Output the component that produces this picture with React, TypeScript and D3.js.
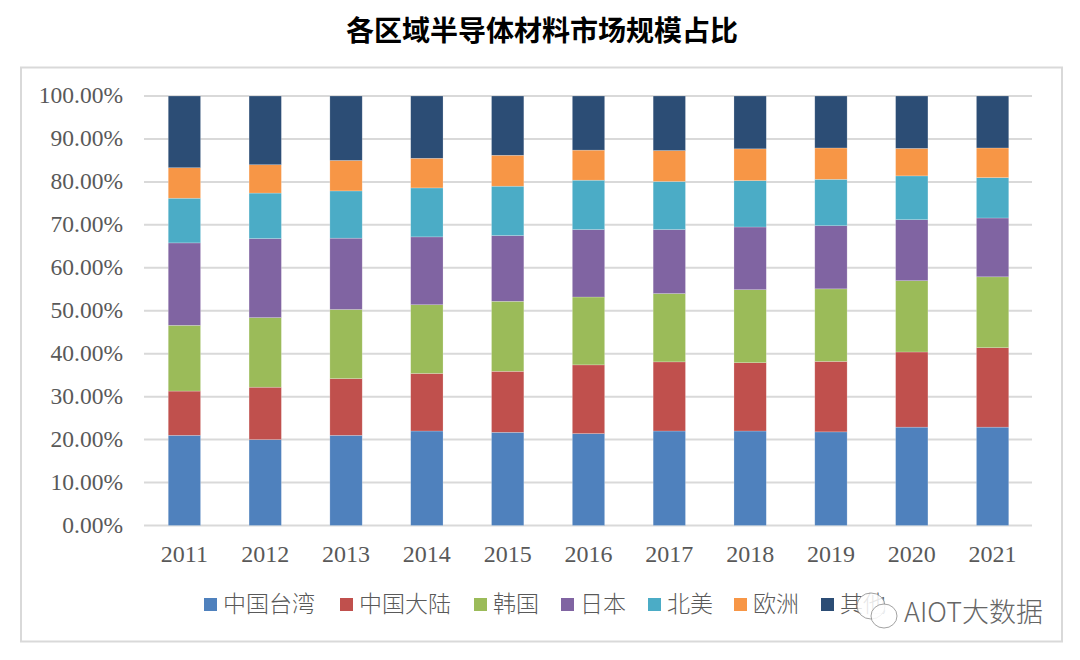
import React from "react";
import * as d3 from "d3";

const years = ["2011","2012","2013","2014","2015","2016","2017","2018","2019","2020","2021"];
const taiwan = [21.0,20.0,21.0,22.0,21.7,21.4,22.0,22.0,21.8,22.9,22.9];
const mainland = [10.3,12.2,13.2,13.4,14.2,16.0,16.1,15.9,16.4,17.5,18.5];
const korea = [15.3,16.2,16.1,16.0,16.3,15.8,15.9,17.0,16.9,16.6,16.5];
const japan = [19.2,18.4,16.6,15.8,15.3,15.7,14.9,14.6,14.7,14.2,13.7];
const northAmerica = [10.4,10.6,11.0,11.4,11.5,11.5,11.2,10.8,10.8,10.2,9.4];
const europe = [7.1,6.6,7.1,6.9,7.2,7.0,7.2,7.4,7.3,6.4,6.9];
const others = [16.7,16.0,15.0,14.5,13.8,12.6,12.7,12.3,12.1,12.2,12.1];
const names = ["中国台湾","中国大陆","韩国","日本","北美","欧洲","其他"];
const colors = ["#4f81bd","#c0504d","#9bbb59","#8064a2","#4bacc6","#f79646","#2c4d75"];
const ticks = [0,10,20,30,40,50,60,70,80,90,100];
const legendX = [204,340,474,561,648,734,821];

const seriesValues = [taiwan,mainland,korea,japan,northAmerica,europe,others];
const rows = years.map((y,i)=>{
  const r: Record<string,any> = {year:y};
  names.forEach((n,k)=>{ r[n]=seriesValues[k][i]; });
  return r;
});
const stacked = d3.stack().keys(names)(rows as any);
const x = d3.scaleBand().domain(years).range([144,1033]).paddingInner(0.6).paddingOuter(0.3);
const y = d3.scaleLinear().domain([0,100]).range([525.5,96]);
const serif = "'Liberation Serif', serif";
const cjk = "'Noto Sans CJK SC', sans-serif";

export default function App(){
  return (
    <svg width={1080} height={660} style={{position:"absolute",left:0,top:0,background:"#fff"}}>
      <rect x={21} y={67.5} width={1041} height={574} fill="#fff" stroke="#d9d9d9" strokeWidth={2}/>
      <text x={542} y={41} textAnchor="middle" fontFamily={cjk} fontWeight={700} fontSize={28} fill="#000">各区域半导体材料市场规模占比</text>
      {ticks.map(t=>(
        <g key={t}>
          <line x1={144} x2={1032} y1={y(t)} y2={y(t)} stroke="#d9d9d9" strokeWidth={2}/>
          <text x={123} y={y(t)+7} textAnchor="end" fontFamily={serif} fontSize={23.5} fill="#595959">{t.toFixed(2)}%</text>
        </g>
      ))}
      {stacked.map((s,k)=>(
        <g key={names[k]} fill={colors[k]}>
          {s.map((d:any,i:number)=>(
            <rect key={years[i]} x={x(years[i])} width={x.bandwidth()} y={y(d[1])} height={y(d[0])-y(d[1])} stroke="#fff" strokeOpacity={0.35} strokeWidth={0.6}/>
          ))}
        </g>
      ))}
      {years.map(v=>(
        <text key={v} x={(x(v) as number)+x.bandwidth()/2} y={562} textAnchor="middle" fontFamily={serif} fontSize={24} fill="#595959">{v}</text>
      ))}
      {names.map((n,k)=>(
        <g key={n}>
          <rect x={legendX[k]} y={598} width={13} height={13} fill={colors[k]}/>
          <text x={legendX[k]+19} y={612} fontFamily={cjk} fontWeight={300} fontSize={23} fill="#595959">{n}</text>
        </g>
      ))}
      <g fill="#fff" fillOpacity={0.85} stroke="#8a8a8a" strokeWidth={0.8}>
        <ellipse cx={871} cy={606} rx={14} ry={13}/>
        <ellipse cx={884} cy={616} rx={13} ry={12}/>
      </g>
      <text x={904} y={622} fontFamily={cjk} fontWeight={300} fontSize={27} fill="#666">AIOT大数据</text>
    </svg>
  );
}
